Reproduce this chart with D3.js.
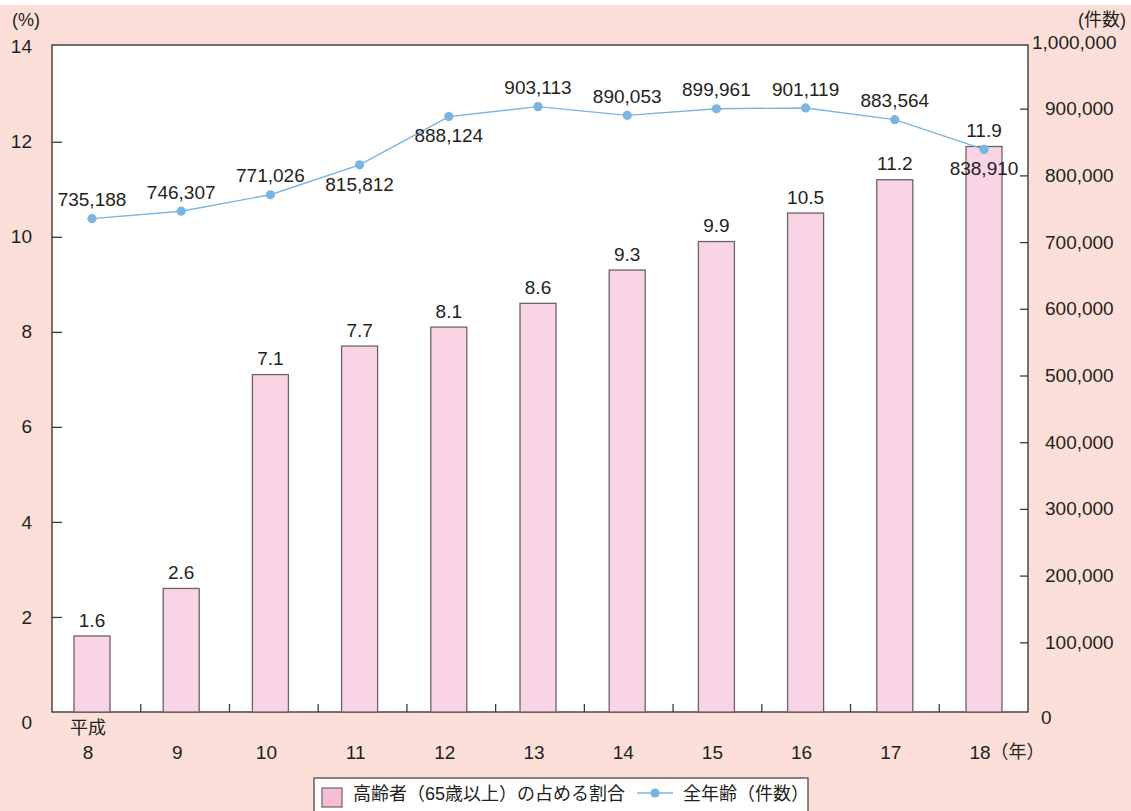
<!DOCTYPE html>
<html>
<head>
<meta charset="utf-8">
<script src="https://cdn.jsdelivr.net/npm/d3@7"></script>
<style>
  body { margin: 0; background: #fff; }
  text { font-family: "Liberation Sans", "Noto Sans CJK JP", sans-serif; fill: #231f20; }
</style>
</head>
<body>
<svg id="chart" width="1131" height="811"></svg>
<script>
// 平成8〜18年
const years = ["8", "9", "10", "11", "12", "13", "14", "15", "16", "17", "18"];
// 高齢者（65歳以上）の占める割合 (%)
const elderlyShare = [1.6, 2.6, 7.1, 7.7, 8.1, 8.6, 9.3, 9.9, 10.5, 11.2, 11.9];
// 全年齢（件数）
const allAgesCases = [735188, 746307, 771026, 815812, 888124, 903113, 890053, 899961, 901119, 883564, 838910];
const shareTicks = [0, 2, 4, 6, 8, 10, 12, 14];
const caseTicks = [0, 100000, 200000, 300000, 400000, 500000, 600000, 700000, 800000, 900000, 1000000];
// which side of each point its count label sits on
const caseLabelSide = ["above", "above", "above", "below", "below", "above", "above", "above", "above", "above", "below"];

const svg = d3.select("#chart");
const W = 1131, H = 811;
const plot = { left: 52, right: 1028, top: 45, bottom: 712 };
const ink = "#231f20";
const frame = "#3a3a3a";
const barFill = "#f9d4e4";
const barStroke = "#6e6266";
const lineColor = "#7ab4e2";

// page background
svg.append("rect").attr("x", 0).attr("y", 0).attr("width", W).attr("height", H).attr("fill", "#fff");
svg.append("rect").attr("x", 0).attr("y", 5).attr("width", W).attr("height", H - 5).attr("fill", "#fcdfd8");

// plot area
svg.append("rect")
  .attr("x", plot.left).attr("y", plot.top)
  .attr("width", plot.right - plot.left).attr("height", plot.bottom - plot.top)
  .attr("fill", "#fff").attr("stroke", frame).attr("stroke-width", 1.4);

const yShare = d3.scaleLinear().domain([0, 14]).range([plot.bottom, 46.7]);
const yCases = d3.scaleLinear().domain([0, 1000000]).range([709, 42]);
const xBand = d3.scaleBand().domain(years).range([plot.left, plot.right]);
const xMid = d3.scalePoint().domain(years).range([92, 984]);

// left axis (%)
const leftAxis = svg.append("g")
  .attr("transform", `translate(${plot.left},0)`)
  .call(d3.axisLeft(yShare).tickValues(shareTicks).tickSizeInner(-10).tickSizeOuter(0).tickPadding(20));
leftAxis.select(".domain").remove();
leftAxis.selectAll(".tick line").attr("stroke", frame).attr("stroke-width", 1.3)
  .filter(d => d === 0 || d === 14).remove();
leftAxis.selectAll(".tick text")
  .attr("font-size", 19).attr("fill", ink).attr("font-family", null)
  .filter(d => d === 0).attr("y", 10);

// right axis (件数)
const rightAxis = svg.append("g")
  .attr("transform", `translate(${plot.right},0)`)
  .call(d3.axisRight(yCases).tickValues(caseTicks).tickSizeInner(-8).tickSizeOuter(0).tickPadding(17)
    .tickFormat(d3.format(",")));
rightAxis.select(".domain").remove();
rightAxis.selectAll(".tick line").attr("stroke", frame).attr("stroke-width", 1.3)
  .filter(d => d === 0 || d === 1000000).remove();
rightAxis.selectAll(".tick text").attr("font-size", 19).attr("fill", ink).attr("font-family", null);
rightAxis.selectAll(".tick text").filter(d => d === 1000000).attr("x", 4);
rightAxis.selectAll(".tick text").filter(d => d === 0).attr("x", 13).attr("y", 8);

// unit captions
svg.append("text").attr("x", 12).attr("y", 20).attr("dy", "0.35em")
  .attr("font-size", 18).text("(%)");
svg.append("text").attr("x", 1126).attr("y", 20).attr("dy", "0.35em")
  .attr("text-anchor", "end").attr("font-size", 18).text("(件数)");

// category separators on the baseline
svg.append("g").selectAll("line")
  .data(years.slice(1))
  .join("line")
  .attr("x1", d => xBand(d)).attr("x2", d => xBand(d))
  .attr("y1", plot.bottom).attr("y2", plot.bottom - 8)
  .attr("stroke", frame).attr("stroke-width", 1.3);

// category labels
const catLabels = svg.append("g");
catLabels.selectAll("text")
  .data(years)
  .join("text")
  .attr("x", d => xMid(d) - 4)
  .attr("y", 752).attr("dy", "0.35em")
  .attr("text-anchor", "middle").attr("font-size", 19)
  .text(d => d);
svg.append("text").attr("x", xMid(years[0]) - 4).attr("y", 728).attr("dy", "0.35em")
  .attr("text-anchor", "middle").attr("font-size", 18).text("平成");
const lastLabel = catLabels.selectAll("text").filter((d, i) => i === years.length - 1);
const lastW = lastLabel.node().getComputedTextLength();
svg.append("text")
  .attr("x", xMid(years[years.length - 1]) - 4 + lastW / 2)
  .attr("y", 752).attr("dy", "0.35em").attr("font-size", 18).text("（年）");

// bars
const barW = 36;
svg.append("g").selectAll("rect")
  .data(elderlyShare)
  .join("rect")
  .attr("x", (d, i) => xMid(years[i]) - barW / 2)
  .attr("y", d => yShare(d))
  .attr("width", barW)
  .attr("height", d => plot.bottom - yShare(d))
  .attr("fill", barFill).attr("stroke", barStroke).attr("stroke-width", 1.3);

svg.append("g").selectAll("text")
  .data(elderlyShare)
  .join("text")
  .attr("x", (d, i) => xMid(years[i]))
  .attr("y", d => yShare(d) - 16).attr("dy", "0.35em")
  .attr("text-anchor", "middle").attr("font-size", 19)
  .text(d => d3.format(".1f")(d));

// line of all-age counts
const line = d3.line()
  .x((d, i) => xMid(years[i]))
  .y(d => yCases(d));
svg.append("path")
  .datum(allAgesCases)
  .attr("d", line)
  .attr("fill", "none").attr("stroke", lineColor).attr("stroke-width", 1.4);
svg.append("g").selectAll("circle")
  .data(allAgesCases)
  .join("circle")
  .attr("cx", (d, i) => xMid(years[i]))
  .attr("cy", d => yCases(d))
  .attr("r", 4.6).attr("fill", lineColor);
svg.append("g").selectAll("text")
  .data(allAgesCases)
  .join("text")
  .attr("x", (d, i) => xMid(years[i]))
  .attr("y", (d, i) => yCases(d) + (caseLabelSide[i] === "above" ? -19 : 19))
  .attr("dy", "0.35em")
  .attr("text-anchor", "middle").attr("font-size", 19)
  .text(d => d3.format(",")(d));

// legend
const lg = svg.append("g");
lg.append("rect").attr("x", 314).attr("y", 778).attr("width", 494).attr("height", 44)
  .attr("fill", "#fff").attr("stroke", "#4a4a4a").attr("stroke-width", 1.3);
lg.append("rect").attr("x", 322).attr("y", 788).attr("width", 20).attr("height", 19)
  .attr("fill", "#f6bdd6").attr("stroke", barStroke).attr("stroke-width", 1.2);
lg.append("text").attr("x", 353).attr("y", 794).attr("dy", "0.35em").attr("font-size", 18)
  .text("高齢者（65歳以上）の占める割合");
lg.append("line").attr("x1", 637).attr("x2", 673).attr("y1", 793).attr("y2", 793)
  .attr("stroke", lineColor).attr("stroke-width", 1.4);
lg.append("circle").attr("cx", 655).attr("cy", 793).attr("r", 4.6).attr("fill", lineColor);
lg.append("text").attr("x", 683).attr("y", 794).attr("dy", "0.35em").attr("font-size", 18)
  .text("全年齢（件数）");
</script>
</body>
</html>
